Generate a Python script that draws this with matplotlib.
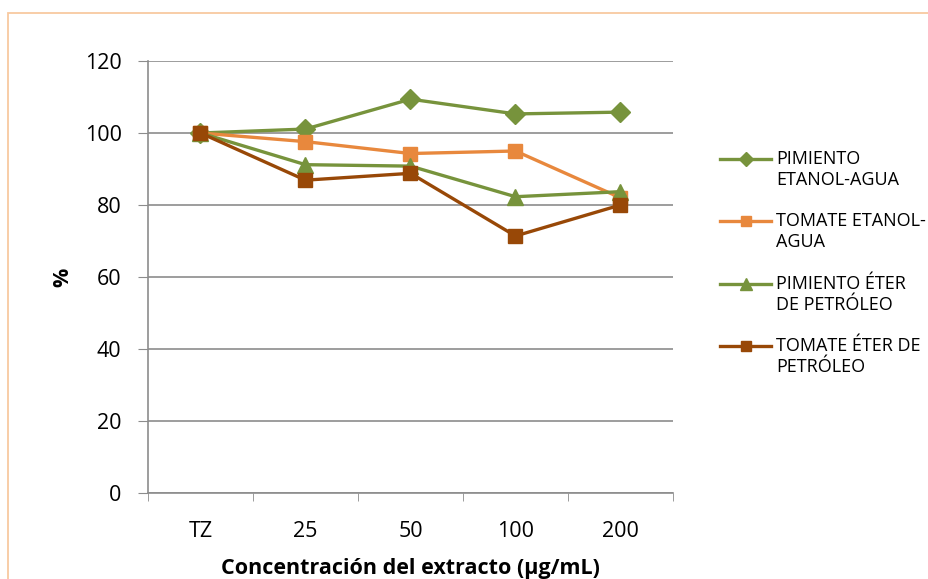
import matplotlib.pyplot as plt
from matplotlib.patches import Rectangle
from matplotlib.legend_handler import HandlerLine2D
import numpy as np

plt.rcParams['font.family'] = ['Open Sans', 'DejaVu Sans']

categories = ["TZ", "25", "50", "100", "200"]
pimiento_etanol = [100, 101.1, 109.4, 105.3, 105.8]
tomate_etanol = [100, 97.6, 94.3, 95.0, 82.0]
pimiento_eter = [100, 91.2, 90.8, 82.3, 83.7]
tomate_eter = [100, 86.9, 88.8, 71.4, 80.0]

green = "#77933C"
orange = "#E8883D"
brown = "#984807"
gridc = "#8C8C8C"


class TopLineHandler(HandlerLine2D):
    # put the legend line beside the first text line, like Excel does
    def create_artists(self, legend, orig_handle, xdescent, ydescent, width, height, fontsize, trans):
        arts = super().create_artists(legend, orig_handle, xdescent, ydescent, width, height, fontsize, trans)
        for a in arts:
            a.set_ydata(np.asarray(a.get_ydata()) + 0.62 * fontsize)
        return arts


fig = plt.figure(figsize=(9.29, 5.79), dpi=100)
fig.patches.append(Rectangle((8 / 929, -0.1), 1.2, 1 - 13 / 579 + 0.1, transform=fig.transFigure,
                             fill=False, edgecolor="#F8C9A0", linewidth=1.3))
ax = fig.add_axes([148 / 929, 86 / 579, 525 / 929, 432 / 579])

x = np.arange(len(categories))
ax.plot(x, pimiento_etanol, marker="D", color=green, lw=2.4, ms=10, label="PIMIENTO\nETANOL-AGUA", zorder=3)
ax.plot(x, tomate_etanol, marker="s", color=orange, lw=2.4, ms=10.5, label="TOMATE ETANOL-\nAGUA", zorder=3)
ax.plot(x, pimiento_eter, marker="^", color=green, lw=2.4, ms=11, label="PIMIENTO ÉTER\nDE PETRÓLEO", zorder=3)
ax.plot(x, tomate_eter, marker="s", color=brown, lw=2.4, ms=10.5, label="TOMATE ÉTER DE\nPETRÓLEO", zorder=3)

ax.set_xlim(-0.5, 4.5)
ax.set_ylim(0, 120)
ax.set_yticks(range(0, 121, 20))
ax.set_xticks(x)
ax.set_xticklabels(categories)
ax.set_xticks(np.arange(-0.5, 4.6, 1), minor=True)
ax.tick_params(axis="x", which="major", length=0, pad=20, labelsize=15.5)
ax.tick_params(axis="x", which="minor", length=6, color=gridc, direction="out")
ax.tick_params(axis="y", length=7, color=gridc, direction="out", labelsize=15.5, pad=12)
ax.yaxis.grid(True, color=gridc, lw=1.2)
ax.set_axisbelow(True)
for s in ["top", "right"]:
    ax.spines[s].set_visible(False)
for s in ["left", "bottom"]:
    ax.spines[s].set_color(gridc)
    ax.spines[s].set_linewidth(1.2)

ax.set_xlabel("Concentración del extracto (µg/mL)", fontsize=15.5, fontweight="bold", labelpad=12)
ax.set_ylabel("%", fontsize=15.5, fontweight="bold", labelpad=8)

handles, labels = ax.get_legend_handles_labels()
fig.legend(handles, labels, loc="upper left", bbox_to_anchor=(713 / 929, 1 - 143 / 579), frameon=False,
           fontsize=13, handlelength=2.8, labelspacing=1.3, handletextpad=0.3, markerscale=0.75,
           borderaxespad=0, handler_map={h: TopLineHandler() for h in handles})

fig.savefig("out.png", dpi=100)
